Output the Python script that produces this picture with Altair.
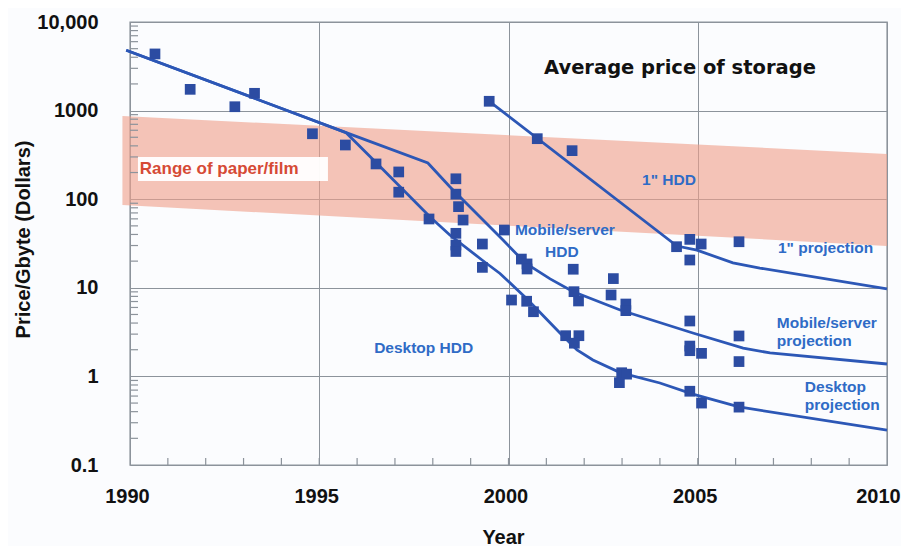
import altair as alt
import pandas as pd

# ---------------- data ----------------
point_years = [1990.66, 1991.59, 1992.77, 1993.29, 1994.82, 1995.69, 1996.50, 1997.10, 1997.10,
               1997.90, 1998.61, 1998.61, 1998.68, 1998.80, 1998.61, 1998.61, 1998.61, 1999.31,
               1999.31, 1999.89, 2000.34, 2000.49, 2000.49, 2000.08, 2000.48, 2000.66, 1999.49,
               2000.76, 2001.68, 2004.44, 2004.79, 2005.09, 2004.79, 2006.09, 2001.71, 2001.73,
               2001.85, 2002.77, 2002.71, 2003.10, 2003.10, 2001.51, 2001.86, 2001.74, 2002.99,
               2003.12, 2002.93, 2004.79, 2004.79, 2004.79, 2005.10, 2004.79, 2005.10, 2006.09,
               2006.09, 2006.09]
point_prices = [4360, 1738, 1106, 1567, 548, 409, 250, 203, 120,
                59.8, 170, 114, 82.4, 58.2, 41.2, 30.4, 25.7, 31.2,
                17.0, 44.9, 21.1, 18.6, 16.3, 7.28, 7.05, 5.37, 1274,
                482, 353, 29.1, 35.2, 31.2, 20.6, 33.1, 16.2, 9.04,
                7.1, 12.7, 8.3, 6.56, 5.52, 2.88, 2.88, 2.37, 1.10,
                1.06, 0.85, 4.22, 2.2, 1.95, 1.82, 0.68, 0.50, 2.86,
                1.47, 0.45]

desktop_years = [1989.9, 1995.71, 1996.52, 1997.93, 1998.45, 1999.30, 1999.775, 2000.49,
                 2001.36, 2001.81, 2002.23, 2002.95, 2004.00, 2004.87, 2006.09, 2010]
desktop_prices = [4800, 564, 254, 63.0, 39.4, 20.6, 14.5, 7.48,
                  3.09, 1.99, 1.53, 1.105, 0.842, 0.632, 0.452, 0.248]

mobile_years = [1989.9, 1995.71, 1997.87, 1998.45, 1999.855, 2000.44, 2001.10, 2001.70,
                2002.95, 2004.87, 2006.20, 2006.91, 2010]
mobile_prices = [4800, 564, 256, 138, 34.6, 19.1, 12.6, 9.08,
                 5.61, 3.09, 2.09, 1.84, 1.38]

inch_years = [1999.485, 2004.45, 2004.98, 2005.93, 2006.64, 2010]
inch_prices = [1282, 29.6, 26.6, 19.1, 16.7, 9.7]

band_years = [1989.8, 2010]
band_high = [869, 324]
band_low = [86, 29.7]

y_tick_values = [0.1, 1, 10, 100, 1000, 10000]
y_tick_labels = ["0.1", "1", "10", "100", "1000", "10,000"]
x_tick_values = [1990, 1995, 2000, 2005, 2010]
x_minor_ticks = [y for y in range(1991, 2010)]
y_minor_ticks = [k * 10 ** d for d in range(-1, 4) for k in range(2, 10)]

center_texts = ['1" HDD', "Mobile/server", "HDD"]
center_years = [2004.24, 2001.49, 2001.41]
center_prices = [165, 44.9, 25.4]

left_texts = ['1" projection', "Mobile/server", "projection", "Desktop", "projection", "Desktop HDD"]
left_years = [2007.12, 2007.09, 2007.09, 2007.83, 2007.83, 1996.45]
left_prices = [28.1, 4.01, 2.51, 0.759, 0.4755, 2.09]

title_text = "Average price of storage"
title_year, title_price = 2004.53, 3026

paper_text = "Range of paper/film"
paper_year, paper_price = 1990.26, 219
paper_box_years = [1990.21, 1995.23]
paper_box_prices = [160.4, 299]

# ---------------- styling ----------------
FONT = "Liberation Sans"
GRID = "#8C939B"
POINT_C = "#2C4CA2"
LINE_C = "#2C57B6"
LABEL_C = "#2F6BC6"
RED = "#D64A35"
BG = "#FBFCFE"

label_expr = ""
for v, l in zip(y_tick_values, y_tick_labels):
    label_expr += f"abs(datum.value - {v}) < {v * 0.01} ? '{l}' : "
label_expr += "''"

xs = alt.Scale(domain=[1990, 2010], nice=False, zero=False)
ys = alt.Scale(type="log", domain=[0.1, 10000], nice=False)

x_axis = alt.Axis(values=x_tick_values, format="d", grid=True, gridColor=GRID, gridWidth=1,
                  domain=False, ticks=False, labelFlush=False, labelOverlap=False,
                  labelBound=False,
                  labelFont=FONT, labelFontWeight="bold",
                  labelFontSize=20, labelColor="#111111", labelPadding=21,
                  labelOffset=alt.ExprRef(expr="datum.value == 2010 ? -9 : -3"),
                  title="Year", titleFont=FONT, titleFontWeight="bold", titleFontSize=20,
                  titleColor="#111111", titleX=373, titleY=72, titleAlign="center",
                  titleBaseline="middle")
y_axis = alt.Axis(values=y_tick_values, labelExpr=label_expr, grid=True, gridColor=GRID,
                  gridWidth=1, domain=False, ticks=False, labelFlush=False, labelOverlap=False,
                  labelFont=FONT, labelFontWeight="bold", labelFontSize=20, labelColor="#111111",
                  labelPadding=32, title="Price/Gbyte (Dollars)", titleFont=FONT,
                  titleFontWeight="bold", titleFontSize=20, titleColor="#111111",
                  titleAngle=270, titleX=-107, titleY=217, titleAlign="center",
                  titleBaseline="middle")

X = alt.X("year:Q", scale=xs, axis=x_axis)
Y = alt.Y("price:Q", scale=ys, axis=y_axis)

band_df = pd.DataFrame({"year": band_years, "price": band_high, "price2": band_low})
band = alt.Chart(band_df).mark_area(color="#EFA08A", opacity=0.62).encode(
    x=X, y=Y, y2="price2:Q")

box_df = pd.DataFrame({"year": [paper_box_years[0]], "year2": [paper_box_years[1]],
                       "price": [paper_box_prices[0]], "price2": [paper_box_prices[1]]})
box = alt.Chart(box_df).mark_rect(color="#FFFFFF", opacity=0.95).encode(
    x=X, x2="year2:Q", y=Y, y2="price2:Q")

paper_df = pd.DataFrame({"year": [paper_year], "price": [paper_price], "t": [paper_text]})
paper = alt.Chart(paper_df).mark_text(font=FONT, fontWeight="bold", fontSize=17, color=RED,
                                      align="left", baseline="middle").encode(
    x=X, y=Y, text="t:N")

lines_df = pd.concat([
    pd.DataFrame({"year": desktop_years, "price": desktop_prices, "series": "Desktop"}),
    pd.DataFrame({"year": mobile_years, "price": mobile_prices, "series": "Mobile"}),
    pd.DataFrame({"year": inch_years, "price": inch_prices, "series": "Inch"}),
])
lines = alt.Chart(lines_df).mark_line(color=LINE_C, strokeWidth=2.8).encode(
    x=X, y=Y, detail="series:N", order="year:Q")

pts_df = pd.DataFrame({"year": point_years, "price": point_prices})
pts = alt.Chart(pts_df).mark_square(size=115, color=POINT_C, opacity=1).encode(x=X, y=Y)

cdf = pd.DataFrame({"year": center_years, "price": center_prices, "t": center_texts})
ctext = alt.Chart(cdf).mark_text(font=FONT, fontWeight="bold", fontSize=15.5, color=LABEL_C,
                                 align="center", baseline="middle").encode(x=X, y=Y, text="t:N")
ldf = pd.DataFrame({"year": left_years, "price": left_prices, "t": left_texts})
ltext = alt.Chart(ldf).mark_text(font=FONT, fontWeight="bold", fontSize=15.5, color=LABEL_C,
                                 align="left", baseline="middle").encode(x=X, y=Y, text="t:N")

tdf = pd.DataFrame({"year": [title_year], "price": [title_price], "t": [title_text]})
title = alt.Chart(tdf).mark_text(font="DejaVu Sans", fontWeight="bold", fontSize=19.5,
                                 color="#111111", align="center", baseline="middle").encode(
    x=X, y=Y, text="t:N")

ymin_df = pd.DataFrame({"price": y_minor_ticks})
yminor = alt.Chart(ymin_df).mark_tick(orient="horizontal", size=8, thickness=1.2,
                                      color=GRID, opacity=1).encode(
    y=Y, x=alt.value(4))
xmin_df = pd.DataFrame({"year": x_minor_ticks})
xminor = alt.Chart(xmin_df).mark_tick(orient="vertical", size=7, thickness=1.2,
                                      color=GRID, opacity=1).encode(
    x=X, y=alt.value(439.5))

chart = alt.layer(band, box, paper, lines, pts, ctext, ltext, title, yminor, xminor).properties(
    width=757, height=443,
    autosize=alt.AutoSizeParams(type="none"),
    padding={"left": 122, "top": 14, "right": 14, "bottom": 81},
    background=BG,
).configure_view(stroke=GRID, strokeWidth=1.4, fill=BG)

chart.save("out.html", embed_options={"renderer": "svg", "actions": False})
